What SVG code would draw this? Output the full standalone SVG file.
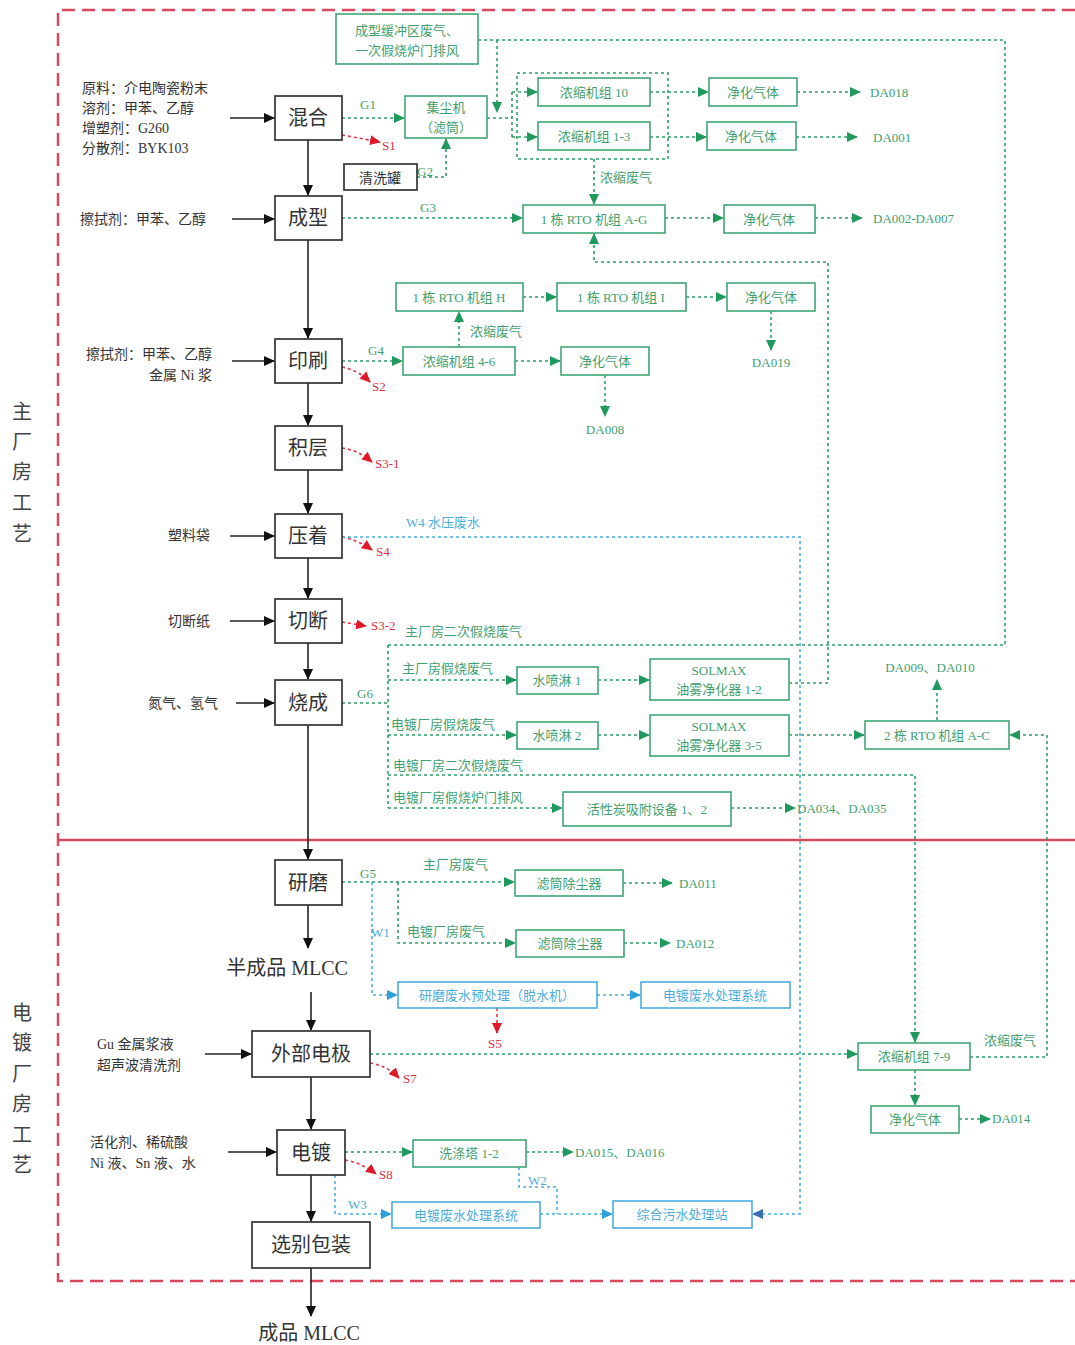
<svg xmlns="http://www.w3.org/2000/svg" width="1075" height="1345" viewBox="0 0 1075 1345">
<style>
text{font-family:"Liberation Serif","Noto Sans CJK SC",serif}
.pb{fill:#fff;stroke:#333;stroke-width:1.7}
.pt{font-size:20px;fill:#333;text-anchor:middle}
.lt{font-size:14px;fill:#333}
.sd{font-size:20px;fill:#444;text-anchor:middle}
.gb{fill:#fff;stroke:#3fa673;stroke-width:1.6}
.gt{font-size:13px;fill:#3f9f6e;text-anchor:middle}
.gl{font-size:13px;fill:#3f9f6e}
.bb{fill:#fff;stroke:#4aaedc;stroke-width:1.6}
.bt{font-size:13px;fill:#4aaedc;text-anchor:middle}
.blt{font-size:13px;fill:#4aaedc}
.rt{font-size:13px;fill:#e0303f}
.k{fill:none;stroke:#222;stroke-width:1.6}
.g{fill:none;stroke:#2f9e66;stroke-width:1.6;stroke-dasharray:3 3}
.b{fill:none;stroke:#4aaedc;stroke-width:1.6;stroke-dasharray:3 3}
.r{fill:none;stroke:#e0303f;stroke-width:1.6;stroke-dasharray:3 3}
</style>
<defs>
<marker id="ak" markerWidth="11" markerHeight="10" refX="10" refY="5" orient="auto" markerUnits="userSpaceOnUse"><path d="M0,0 L11,5 L0,10 z" fill="#111"/></marker>
<marker id="ag" markerWidth="11" markerHeight="10" refX="10" refY="5" orient="auto" markerUnits="userSpaceOnUse"><path d="M0,0 L11,5 L0,10 z" fill="#1f9a5c"/></marker>
<marker id="ab" markerWidth="11" markerHeight="10" refX="10" refY="5" orient="auto" markerUnits="userSpaceOnUse"><path d="M0,0 L11,5 L0,10 z" fill="#2e9fd8"/></marker>
<marker id="ad" markerWidth="11" markerHeight="10" refX="10" refY="5" orient="auto" markerUnits="userSpaceOnUse"><path d="M0,0 L11,5 L0,10 z" fill="#3a6fb0"/></marker>
<marker id="ar" markerWidth="11" markerHeight="10" refX="10" refY="5" orient="auto" markerUnits="userSpaceOnUse"><path d="M0,0 L11,5 L0,10 z" fill="#e01828"/></marker>
</defs>
<rect width="1075" height="1345" fill="#fff"/>

<!-- region borders -->
<g id="regions">
<path d="M1075,10 H58 V1281 H1075" fill="none" stroke="#d9485c" stroke-width="2.5" stroke-dasharray="13 7"/>
<line x1="58" y1="840" x2="1075" y2="840" stroke="#d9485c" stroke-width="2.5"/>
<text class="sd" x="22" y="419">主</text><text class="sd" x="22" y="449">厂</text><text class="sd" x="22" y="479">房</text><text class="sd" x="22" y="510">工</text><text class="sd" x="22" y="541">艺</text>
<text class="sd" x="22" y="1020">电</text><text class="sd" x="22" y="1050">镀</text><text class="sd" x="22" y="1081">厂</text><text class="sd" x="22" y="1111">房</text><text class="sd" x="22" y="1142">工</text><text class="sd" x="22" y="1172">艺</text>
</g>

<!-- connectors -->
<g id="connectors">
<!-- main black flow -->
<path class="k" d="M308,140 V195" marker-end="url(#ak)"/>
<path class="k" d="M308,240 V338" marker-end="url(#ak)"/>
<path class="k" d="M308,383 V425" marker-end="url(#ak)"/>
<path class="k" d="M308,470 V513" marker-end="url(#ak)"/>
<path class="k" d="M308,558 V598" marker-end="url(#ak)"/>
<path class="k" d="M308,643 V679" marker-end="url(#ak)"/>
<path class="k" d="M308,725 V859" marker-end="url(#ak)"/>
<path class="k" d="M308,905 V948" marker-end="url(#ak)"/>
<path class="k" d="M311,992 V1030" marker-end="url(#ak)"/>
<path class="k" d="M311,1077 V1129" marker-end="url(#ak)"/>
<path class="k" d="M311,1175 V1221" marker-end="url(#ak)"/>
<path class="k" d="M311,1268 V1316" marker-end="url(#ak)"/>
<!-- inputs -->
<path class="k" d="M230,118 H274" marker-end="url(#ak)"/>
<path class="k" d="M232,219 H274" marker-end="url(#ak)"/>
<path class="k" d="M232,361 H274" marker-end="url(#ak)"/>
<path class="k" d="M230,536 H274" marker-end="url(#ak)"/>
<path class="k" d="M230,621 H274" marker-end="url(#ak)"/>
<path class="k" d="M236,703 H274" marker-end="url(#ak)"/>
<path class="k" d="M205,1054 H251" marker-end="url(#ak)"/>
<path class="k" d="M228,1152 H276" marker-end="url(#ak)"/>

<!-- red solid waste -->
<path class="r" d="M342,135 L380,142" marker-end="url(#ar)"/>
<path class="r" d="M342,367 Q358,370 370,382" marker-end="url(#ar)"/>
<path class="r" d="M342,448 Q358,450 372,462" marker-end="url(#ar)"/>
<path class="r" d="M342,537 Q358,540 372,550" marker-end="url(#ar)"/>
<path class="r" d="M342,622 L366,626" marker-end="url(#ar)"/>
<path class="r" d="M370,1063 Q388,1066 399,1078" marker-end="url(#ar)"/>
<path class="r" d="M345,1160 Q362,1163 376,1174" marker-end="url(#ar)"/>
<path class="r" d="M497,1008 V1033" marker-end="url(#ar)"/>

<!-- green gas -->
<path class="g" d="M478,40 H1005 V645 H388"/>
<path class="g" d="M497,40 V112" marker-end="url(#ag)"/>
<path class="g" d="M342,118 H404" marker-end="url(#ag)"/>
<path class="g" d="M417,177 H446 V139" marker-end="url(#ag)"/>
<path class="g" d="M487,118 H512 M512,92 V137"/>
<path class="g" d="M512,92 H537" marker-end="url(#ag)"/>
<path class="g" d="M512,137 H537" marker-end="url(#ag)"/>
<rect x="517" y="73" width="151" height="86" fill="none" stroke="#2f9e66" stroke-width="1.6" stroke-dasharray="3 3"/>
<path class="g" d="M650,92 H708" marker-end="url(#ag)"/>
<path class="g" d="M650,137 H706" marker-end="url(#ag)"/>
<path class="g" d="M797,92 H860" marker-end="url(#ag)"/>
<path class="g" d="M796,137 H857" marker-end="url(#ag)"/>
<path class="g" d="M594,159 V204" marker-end="url(#ag)"/>
<path class="g" d="M342,218 H522" marker-end="url(#ag)"/>
<path class="g" d="M665,218 H723" marker-end="url(#ag)"/>
<path class="g" d="M815,218 H862" marker-end="url(#ag)"/>
<path class="g" d="M789,683 H828 V262 H594 V234" marker-end="url(#ag)"/>
<path class="g" d="M342,361 H402" marker-end="url(#ag)"/>
<path class="g" d="M515,361 H560" marker-end="url(#ag)"/>
<path class="g" d="M605,375 V416" marker-end="url(#ag)"/>
<path class="g" d="M459,347 V312" marker-end="url(#ag)"/>
<path class="g" d="M523,297 H556" marker-end="url(#ag)"/>
<path class="g" d="M686,297 H726" marker-end="url(#ag)"/>
<path class="g" d="M771,311 V350" marker-end="url(#ag)"/>
<path class="g" d="M342,703 H388 M388,645 V808"/>
<path class="g" d="M388,680 H516" marker-end="url(#ag)"/>
<path class="g" d="M598,680 H649" marker-end="url(#ag)"/>
<path class="g" d="M388,735 H516" marker-end="url(#ag)"/>
<path class="g" d="M598,735 H649" marker-end="url(#ag)"/>
<path class="g" d="M789,735 H864" marker-end="url(#ag)"/>
<path class="g" d="M937,720 V680" marker-end="url(#ag)"/>
<path class="g" d="M388,775 H915 V1042" marker-end="url(#ag)"/>
<path class="g" d="M388,808 H562" marker-end="url(#ag)"/>
<path class="g" d="M731,808 H795" marker-end="url(#ag)"/>
<path class="g" d="M970,1057 H1047 V735 H1010" marker-end="url(#ag)"/>
<path class="g" d="M370,1054 H857" marker-end="url(#ag)"/>
<path class="g" d="M915,1070 V1105" marker-end="url(#ag)"/>
<path class="g" d="M959,1119 H990" marker-end="url(#ag)"/>
<path class="g" d="M342,882 H514" marker-end="url(#ag)"/>
<path class="g" d="M398,882 V943 H515" marker-end="url(#ag)"/>
<path class="g" d="M623,883 H672" marker-end="url(#ag)"/>
<path class="g" d="M624,943 H670" marker-end="url(#ag)"/>
<path class="g" d="M345,1152 H412" marker-end="url(#ag)"/>
<path class="g" d="M526,1152 H573" marker-end="url(#ag)"/>

<!-- blue water -->
<path class="b" d="M342,537 H800 V1214 H753" marker-end="url(#ad)"/>
<path class="b" d="M372,882 V995 H397" marker-end="url(#ab)"/>
<path class="b" d="M597,995 H640" marker-end="url(#ab)"/>
<path class="b" d="M335,1175 V1214 H391" marker-end="url(#ab)"/>
<path class="b" d="M540,1214 H612" marker-end="url(#ab)"/>
<path class="b" d="M519,1167 V1187 H557 V1214"/>
</g>

<!-- connector labels -->
<g id="labels">
<text class="gl" x="360" y="109">G1</text>
<text class="gl" x="417" y="176">G2</text>
<text class="gl" x="420" y="212">G3</text>
<text class="gl" x="368" y="355">G4</text>
<text class="gl" x="357" y="698">G6</text>
<text class="gl" x="360" y="878">G5</text>
<text class="gl" x="600" y="182">浓缩废气</text>
<text class="gl" x="470" y="336">浓缩废气</text>
<text class="gl" x="405" y="636">主厂房二次假烧废气</text>
<text class="gl" x="402" y="673">主厂房假烧废气</text>
<text class="gl" x="391" y="729">电镀厂房假烧废气</text>
<text class="gl" x="393" y="770">电镀厂房二次假烧废气</text>
<text class="gl" x="393" y="802">电镀厂房假烧炉门排风</text>
<text class="gl" x="423" y="869">主厂房废气</text>
<text class="gl" x="407" y="936">电镀厂房废气</text>
<text class="gl" x="984" y="1045">浓缩废气</text>
<text class="gl" x="870" y="97">DA018</text>
<text class="gl" x="873" y="142">DA001</text>
<text class="gl" x="873" y="223">DA002-DA007</text>
<text class="gt" x="771" y="367">DA019</text>
<text class="gt" x="605" y="434">DA008</text>
<text class="gt" x="930" y="672">DA009、DA010</text>
<text class="gl" x="797" y="813">DA034、DA035</text>
<text class="gl" x="679" y="888">DA011</text>
<text class="gl" x="676" y="948">DA012</text>
<text class="gl" x="992" y="1123">DA014</text>
<text class="gl" x="575" y="1157">DA015、DA016</text>
<text class="blt" x="406" y="527">W4 水压废水</text>
<text class="blt" x="371" y="937">W1</text>
<text class="blt" x="348" y="1209">W3</text>
<text class="blt" x="528" y="1185">W2</text>
<text class="rt" x="382" y="150">S1</text>
<text class="rt" x="372" y="391">S2</text>
<text class="rt" x="375" y="468">S3-1</text>
<text class="rt" x="376" y="556">S4</text>
<text class="rt" x="371" y="630">S3-2</text>
<text class="rt" x="403" y="1083">S7</text>
<text class="rt" x="379" y="1179">S8</text>
<text class="rt" x="488" y="1048">S5</text>
</g>

<!-- input material labels -->
<g id="inputs">
<text class="lt" x="82" y="93">原料：介电陶瓷粉末</text>
<text class="lt" x="82" y="113">溶剂：甲苯、乙醇</text>
<text class="lt" x="82" y="133">增塑剂：G260</text>
<text class="lt" x="82" y="153">分散剂：BYK103</text>
<text class="lt" x="80" y="224">擦拭剂：甲苯、乙醇</text>
<text class="lt" x="212" y="359" text-anchor="end">擦拭剂：甲苯、乙醇</text>
<text class="lt" x="212" y="380" text-anchor="end">金属 Ni 浆</text>
<text class="lt" x="168" y="540">塑料袋</text>
<text class="lt" x="168" y="626">切断纸</text>
<text class="lt" x="148" y="708">氮气、氢气</text>
<text class="lt" x="97" y="1049">Gu 金属浆液</text>
<text class="lt" x="97" y="1070">超声波清洗剂</text>
<text class="lt" x="90" y="1147">活化剂、稀硫酸</text>
<text class="lt" x="90" y="1168">Ni 液、Sn 液、水</text>
</g>

<!-- process nodes -->
<g id="n-mix"><rect class="pb" x="275" y="96" width="67" height="44"/><text class="pt" x="308" y="125">混合</text></g>
<g id="n-form"><rect class="pb" x="275" y="196" width="67" height="44"/><text class="pt" x="308" y="225">成型</text></g>
<g id="n-print"><rect class="pb" x="275" y="339" width="67" height="44"/><text class="pt" x="308" y="368">印刷</text></g>
<g id="n-stack"><rect class="pb" x="275" y="426" width="67" height="44"/><text class="pt" x="308" y="455">积层</text></g>
<g id="n-press"><rect class="pb" x="275" y="514" width="67" height="44"/><text class="pt" x="308" y="543">压着</text></g>
<g id="n-cut"><rect class="pb" x="275" y="599" width="67" height="44"/><text class="pt" x="308" y="628">切断</text></g>
<g id="n-fire"><rect class="pb" x="275" y="680" width="67" height="45"/><text class="pt" x="308" y="710">烧成</text></g>
<g id="n-grind"><rect class="pb" x="275" y="860" width="67" height="45"/><text class="pt" x="308" y="890">研磨</text></g>
<g id="n-semi"><text class="pt" x="287" y="975">半成品 MLCC</text></g>
<g id="n-elec"><rect class="pb" x="252" y="1031" width="118" height="46"/><text class="pt" x="311" y="1061">外部电极</text></g>
<g id="n-plate"><rect class="pb" x="277" y="1130" width="68" height="45"/><text class="pt" x="311" y="1160">电镀</text></g>
<g id="n-pack"><rect class="pb" x="252" y="1222" width="118" height="46"/><text class="pt" x="311" y="1252">选别包装</text></g>
<g id="n-final"><text class="pt" x="309" y="1340">成品 MLCC</text></g>
<g id="n-wash"><rect class="pb" x="344" y="164" width="73" height="26"/><text x="380" y="183" font-size="14" fill="#333" text-anchor="middle">清洗罐</text></g>

<!-- green treatment nodes -->
<g id="n-buffer"><rect class="gb" x="336" y="14" width="142" height="50"/><text class="gt" x="407" y="35">成型缓冲区废气、</text><text class="gt" x="407" y="55">一次假烧炉门排风</text></g>
<g id="n-dust"><rect class="gb" x="405" y="96" width="82" height="42"/><text class="gt" x="446" y="112">集尘机</text><text class="gt" x="446" y="132">（滤筒）</text></g>
<g id="n-c10"><rect class="gb" x="538" y="78" width="112" height="28"/><text class="gt" x="594" y="97">浓缩机组 10</text></g>
<g id="n-c13"><rect class="gb" x="538" y="122" width="112" height="28"/><text class="gt" x="594" y="141">浓缩机组 1-3</text></g>
<g id="n-p1"><rect class="gb" x="709" y="78" width="88" height="28"/><text class="gt" x="753" y="97">净化气体</text></g>
<g id="n-p2"><rect class="gb" x="707" y="122" width="89" height="28"/><text class="gt" x="751" y="141">净化气体</text></g>
<g id="n-rtoag"><rect class="gb" x="523" y="205" width="142" height="28"/><text class="gt" x="594" y="224">1 栋 RTO 机组 A-G</text></g>
<g id="n-p3"><rect class="gb" x="724" y="205" width="91" height="28"/><text class="gt" x="769" y="224">净化气体</text></g>
<g id="n-rtoh"><rect class="gb" x="396" y="283" width="127" height="28"/><text class="gt" x="459" y="302">1 栋 RTO 机组 H</text></g>
<g id="n-rtoi"><rect class="gb" x="557" y="283" width="129" height="28"/><text class="gt" x="621" y="302">1 栋 RTO 机组 I</text></g>
<g id="n-p4"><rect class="gb" x="727" y="283" width="88" height="28"/><text class="gt" x="771" y="302">净化气体</text></g>
<g id="n-c46"><rect class="gb" x="403" y="347" width="112" height="28"/><text class="gt" x="459" y="366">浓缩机组 4-6</text></g>
<g id="n-p5"><rect class="gb" x="561" y="347" width="88" height="28"/><text class="gt" x="605" y="366">净化气体</text></g>
<g id="n-spray1"><rect class="gb" x="517" y="667" width="81" height="27"/><text class="gt" x="557" y="685">水喷淋 1</text></g>
<g id="n-sol12"><rect class="gb" x="650" y="659" width="139" height="41"/><text class="gt" x="719" y="675">SOLMAX</text><text class="gt" x="719" y="694">油雾净化器 1-2</text></g>
<g id="n-spray2"><rect class="gb" x="517" y="722" width="81" height="27"/><text class="gt" x="557" y="740">水喷淋 2</text></g>
<g id="n-sol35"><rect class="gb" x="650" y="715" width="139" height="41"/><text class="gt" x="719" y="731">SOLMAX</text><text class="gt" x="719" y="750">油雾净化器 3-5</text></g>
<g id="n-rtoac"><rect class="gb" x="865" y="721" width="144" height="28"/><text class="gt" x="937" y="740">2 栋 RTO 机组 A-C</text></g>
<g id="n-carbon"><rect class="gb" x="563" y="792" width="168" height="34"/><text class="gt" x="647" y="814">活性炭吸附设备 1、2</text></g>
<g id="n-f1"><rect class="gb" x="515" y="870" width="108" height="26"/><text class="gt" x="569" y="888">滤筒除尘器</text></g>
<g id="n-f2"><rect class="gb" x="516" y="930" width="108" height="27"/><text class="gt" x="570" y="948">滤筒除尘器</text></g>
<g id="n-c79"><rect class="gb" x="858" y="1043" width="112" height="27"/><text class="gt" x="914" y="1061">浓缩机组 7-9</text></g>
<g id="n-p6"><rect class="gb" x="871" y="1106" width="88" height="27"/><text class="gt" x="915" y="1124">净化气体</text></g>
<g id="n-scrub"><rect class="gb" x="413" y="1140" width="113" height="27"/><text class="gt" x="469" y="1158">洗涤塔 1-2</text></g>

<!-- blue water nodes -->
<g id="n-gww"><rect class="bb" x="398" y="982" width="199" height="26"/><text class="bt" x="497" y="1000">研磨废水预处理（脱水机）</text></g>
<g id="n-ews1"><rect class="bb" x="641" y="982" width="149" height="26"/><text class="bt" x="715" y="1000">电镀废水处理系统</text></g>
<g id="n-ews2"><rect class="bb" x="392" y="1202" width="148" height="26"/><text class="bt" x="466" y="1220">电镀废水处理系统</text></g>
<g id="n-wwtp"><rect class="bb" x="613" y="1201" width="139" height="27"/><text class="bt" x="682" y="1219">综合污水处理站</text></g>
</svg>
